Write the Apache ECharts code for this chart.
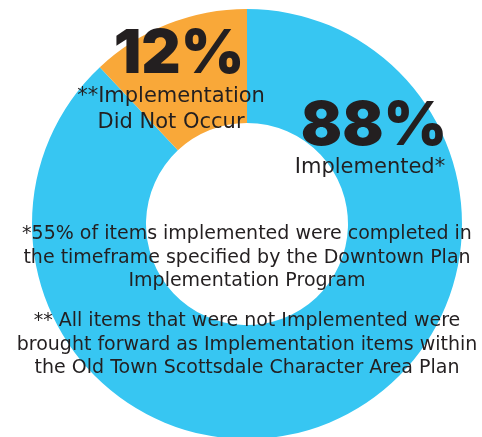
<!DOCTYPE html>
<html>
<head>
<meta charset="utf-8">
<script src="https://cdn.jsdelivr.net/npm/echarts@6/dist/echarts.min.js"></script>
<style>
  html, body { margin: 0; padding: 0; background: #fff; }
  #chart { width: 482px; height: 437px; }
</style>
</head>
<body>
<div id="chart"></div>
<script>
// data
var categories = ['Implemented*', '**Implementation\nDid Not Occur'];
var values = [88, 12];
var colors = ['#37c6f2', '#f9a839'];
var notes = [
  '*55% of items implemented were completed in\nthe timeframe specified by the Downtown Plan\nImplementation Program',
  '** All items that were not Implemented were\nbrought forward as Implementation items within\nthe Old Town Scottsdale Character Area Plan'
];

var chart = echarts.init(document.getElementById('chart'));

var textColor = '#231f20';
var bigFont = 'Inter';
var smallFont = '"DejaVu Sans"';

function txt(x, y, text, font, lh) {
  return {
    type: 'text', x: x, y: y, z: 100, silent: true,
    style: {
      text: text, fill: textColor, align: 'center', verticalAlign: 'middle',
      font: font, lineHeight: lh
    }
  };
}

var option = {
  animation: false,
  series: [
    {
      type: 'pie',
      silent: true,
      z: 1,
      center: [247, 224],
      radius: [101, 215],
      startAngle: 90,
      clockwise: true,
      label: { show: false },
      labelLine: { show: false },
      data: values.map(function (v, i) {
        return { name: categories[i], value: v, itemStyle: { color: colors[i] } };
      })
    }
  ],
  graphic: {
    elements: [
      txt(179, 55, values[1] + '%', '900 61px ' + bigFont),
      txt(171, 110, categories[1], '21px ' + smallFont, 26),
      txt(374, 127, values[0] + '%', '900 61px ' + bigFont),
      txt(370, 168, categories[0], '21px ' + smallFont),
      txt(247, 258, notes[0], '19px ' + smallFont, 23.5),
      txt(247, 345, notes[1], '19px ' + smallFont, 23.5)
    ]
  }
};

chart.setOption(option);
</script>
</body>
</html>
